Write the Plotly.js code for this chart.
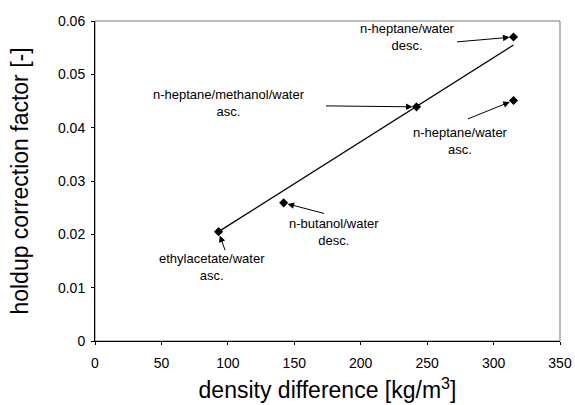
<!DOCTYPE html>
<html>
<head>
<meta charset="utf-8">
<script src="https://cdn.plot.ly/plotly-3.0.1.min.js"></script>
<style>html,body{margin:0;padding:0;background:#fff;}#chart{width:575px;height:405px;}</style>
</head>
<body>
<div id="chart"></div>
<script>
// Data points
const densityDiff = [93, 142, 242, 315, 315];
const holdupFactor = [0.0205, 0.0259, 0.0439, 0.0570, 0.0451];
const systemNames = [
  "ethylacetate/water<br>asc.",
  "n-butanol/water<br>desc.",
  "n-heptane/methanol/water<br>asc.",
  "n-heptane/water<br>desc.",
  "n-heptane/water<br>asc."
];
// Trend line
const fitX = [93, 315];
const fitY = [0.0205, 0.0555];
// Label text positions (data units) and arrow tail offsets (px)
const labelX = [88, 180, 101, 235, 275];
const labelY = [0.0139, 0.0205, 0.0446, 0.0570, 0.0375];
const arrowAX = [7, 42, -92, -58, -47];
const arrowAY = [20, 11, -1, 5, 19];

const xTicks = [0, 50, 100, 150, 200, 250, 300, 350];
const yTicks = [0, 0.01, 0.02, 0.03, 0.04, 0.05, 0.06];
const yTickText = ["0", "0.01", "0.02", "0.03", "0.04", "0.05", "0.06"];

const FONT = "Liberation Sans, Arial, sans-serif";

const traces = [
  {x: fitX, y: fitY, mode: "lines", type: "scatter",
   line: {color: "#000", width: 1.3}, hoverinfo: "skip", showlegend: false},
  {x: densityDiff, y: holdupFactor, mode: "markers", type: "scatter",
   marker: {symbol: "diamond", size: 7, color: "#000"}, showlegend: false}
];

const annotations = [];
for (let i = 0; i < densityDiff.length; i++) {
  annotations.push({x: densityDiff[i], y: holdupFactor[i], xref: "x", yref: "y",
    text: "", showarrow: true, ax: arrowAX[i], ay: arrowAY[i],
    arrowhead: 2, arrowsize: 1.3, arrowwidth: 1, arrowcolor: "#000", standoff: 4});
  annotations.push({x: labelX[i], y: labelY[i], xref: "x", yref: "y",
    text: systemNames[i], showarrow: false, align: "center",
    font: {family: FONT, size: 13, color: "#000"}});
}

const layout = {
  width: 575, height: 405,
  margin: {l: 95, r: 15, t: 21, b: 64},
  paper_bgcolor: "#fff", plot_bgcolor: "#fff",
  font: {family: FONT, color: "#000"},
  xaxis: {range: [0, 350], tickvals: xTicks, ticktext: xTicks.map(String),
    showgrid: false, zeroline: false, showline: true, linecolor: "#000", linewidth: 1,
    ticks: "outside", ticklen: 3, tickcolor: "#000", ticklabelstandoff: 6,
    tickfont: {family: FONT, size: 14, color: "#000"},
    title: {text: "density difference [kg/m<sup>3</sup>]", font: {family: FONT, size: 23, color: "#000"}, standoff: 12}},
  yaxis: {range: [0, 0.06], tickvals: yTicks, ticktext: yTickText,
    showgrid: false, zeroline: false, showline: true, linecolor: "#000", linewidth: 1,
    ticks: "outside", ticklen: 3, tickcolor: "#000", ticklabelstandoff: 3,
    tickfont: {family: FONT, size: 14, color: "#000"},
    title: {text: "holdup correction factor [-]", font: {family: FONT, size: 23, color: "#000"}, standoff: 22}},
  shapes: [{type: "rect", xref: "paper", yref: "paper", x0: 0, x1: 1, y0: 0, y1: 1,
    line: {color: "#777", width: 1}, layer: "below"}],
  annotations: annotations
};

Plotly.newPlot("chart", traces, layout, {staticPlot: true, displayModeBar: false});
</script>
</body>
</html>
